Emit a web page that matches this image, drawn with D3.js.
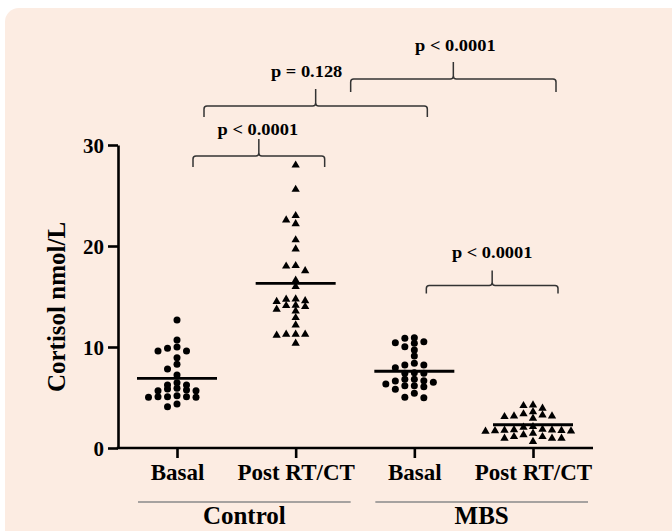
<!DOCTYPE html>
<html>
<head>
<meta charset="utf-8">
<script src="https://cdn.jsdelivr.net/npm/d3@7"></script>
<style>
  html, body { margin: 0; padding: 0; background: #ffffff; }
  svg { display: block; }
  text { font-family: "Liberation Serif", "Times New Roman", serif; font-weight: bold; fill: #000; }
</style>
</head>
<body>
<svg id="chart" width="672" height="531"></svg>
<script>
// ---------------- data ----------------
const categories = ["Basal", "Post RT/CT", "Basal", "Post RT/CT"];
const groupNames = ["Control", "MBS"];
const markerKind = ["dot", "triangle", "dot", "triangle"];

const controlBasal = [12.67, 10.7, 10.0, 9.87, 9.6, 9.6, 8.94, 8.28, 7.82, 7.23,
  6.47, 6.24, 6.24, 5.91, 5.84, 5.74, 5.67, 5.67, 5.18, 5.08, 5.08, 5.08, 5.02, 5.02,
  4.36, 4.09];
const controlPost = [28.0, 25.6, 23.0, 22.57, 22.2, 20.6, 19.7, 18.05, 18.0, 17.55,
  16.6, 15.97, 14.75, 14.72, 14.58, 14.49, 14.13, 14.09, 13.99, 13.73, 13.56, 12.9,
  12.18, 11.26, 11.26, 11.26, 11.16, 10.37];
const mbsBasal = [10.92, 10.86, 10.53, 10.43, 10.36, 10.03, 9.70, 9.11, 8.38, 8.22,
  8.22, 7.95, 7.46, 7.39, 7.39, 6.80, 6.80, 6.66, 6.63, 6.50, 6.34, 6.17, 6.17, 6.07,
  5.81, 5.41, 5.02, 4.98];
const mbsPost = [4.26, 4.19, 3.93, 3.59, 3.37, 3.27, 3.17, 3.17, 3.10, 2.93,
  2.11, 2.05, 1.85, 1.80, 1.78, 1.75, 1.72, 1.70, 1.68, 1.65,
  1.45, 1.30, 1.12, 1.12, 0.95, 0.95, 0.95, 0.63];
const seriesValues = [controlBasal, controlPost, mbsBasal, mbsPost];
const means = [6.9, 16.3, 7.6, 2.3];
const yTicks = [0, 10, 20, 30];

// comparisons: [from category, to category], label
const comparisons = [[0, 1], [0, 2], [1, 3], [2, 3]];
const pLabels = ["p < 0.0001", "p = 0.128", "p < 0.0001", "p < 0.0001"];

// ---------------- layout ----------------
const svg = d3.select("#chart");
svg.append("rect").attr("x", 5).attr("y", 8).attr("width", 720).attr("height", 580)
  .attr("rx", 14).attr("fill", "#FCECE2");

const y = d3.scaleLinear().domain([0, 30]).range([448, 145]);
const x = d3.scalePoint().domain(d3.range(categories.length)).range([177, 533]);
const axisX0 = 118, axisX1 = 593, axisY = y(0);

// y axis
const gy = svg.append("g").attr("transform", `translate(${axisX0},0)`)
  .call(d3.axisLeft(y).tickValues(yTicks).tickSize(10).tickSizeOuter(0).tickPadding(4));
gy.select(".domain").attr("stroke", "#000").attr("stroke-width", 2.6);
gy.selectAll(".tick line").attr("stroke", "#000").attr("stroke-width", 2.6);
gy.selectAll(".tick text").style("font-size", "21px").style("font-family", '"Liberation Serif", serif')
  .style("font-weight", "bold").attr("fill", "#000").attr("dy", "0.34em");

// x axis
svg.append("line").attr("x1", axisX0 - 1.3).attr("x2", axisX1).attr("y1", axisY).attr("y2", axisY)
  .attr("stroke", "#000").attr("stroke-width", 2.6);
const gx = svg.append("g").attr("transform", `translate(0,${axisY})`)
  .call(d3.axisBottom(x).tickSize(10).tickSizeOuter(0).tickPadding(0).tickFormat(i => categories[i]));
gx.select(".domain").remove();
gx.selectAll(".tick line").attr("stroke", "#000").attr("stroke-width", 2.6);
gx.selectAll(".tick text").attr("y", 32).attr("dy", null)
  .style("font-size", "23px").style("font-family", '"Liberation Serif", serif')
  .style("font-weight", "bold").attr("fill", "#000");

// group lines + labels
groupNames.forEach((g, gi) => {
  const a = x(gi * 2), b = x(gi * 2 + 1);
  svg.append("line").attr("x1", a - 39).attr("x2", b + 55).attr("y1", 502).attr("y2", 502)
    .attr("stroke", "#8a8a8a").attr("stroke-width", 1.5);
  svg.append("text").attr("x", (a + b) / 2 + 8).attr("y", 524).attr("text-anchor", "middle")
    .style("font-size", "25px").text(g);
});

// y label
svg.append("text").attr("transform", "translate(65,307) rotate(-90)").attr("text-anchor", "middle")
  .style("font-size", "25px").text("Cortisol nmol/L");

// ---------------- points ----------------
function swarm(values, cx, rowPx, step) {
  const sorted = values.slice().sort((a, b) => b - a);
  const out = [];
  let row = [], rowY = null;
  function flush() {
    row.forEach((v, i) => {
      const k = i === 0 ? 0 : (i % 2 === 1 ? -(i + 1) / 2 : i / 2);
      out.push({ v, x: cx + k * step, y: y(v) });
    });
    row = [];
  }
  sorted.forEach(v => {
    const py = y(v);
    if (rowY === null || py - rowY > rowPx) { flush(); rowY = py; }
    row.push(v);
  });
  flush();
  return out;
}

const tri = d3.symbol().type(d3.symbolTriangle).size(30);
seriesValues.forEach((vals, ci) => {
  const pts = swarm(vals, x(ci), 5.5, 9.5);
  const g = svg.append("g");
  if (markerKind[ci] === "dot") {
    g.selectAll("circle").data(pts).join("circle")
      .attr("cx", d => d.x).attr("cy", d => d.y).attr("r", 3.5).attr("fill", "#000");
  } else {
    g.selectAll("path").data(pts).join("path")
      .attr("transform", d => `translate(${d.x},${d.y})`).attr("d", tri).attr("fill", "#000");
  }
  // mean line
  svg.append("line").attr("x1", x(ci) - 40).attr("x2", x(ci) + 40)
    .attr("y1", y(means[ci])).attr("y2", y(means[ci]))
    .attr("stroke", "#000").attr("stroke-width", 2.8);
});

// ---------------- brackets ----------------
// per comparison: left/right offsets from the category centres, bracket level (data units),
// end drop and tick rise in px, label offset
const bracketLayout = [
  { l: 16, r: 29, level: 28.9, drop: 11, rise: 17, lx: -1, ly: 4 },
  { l: 27, r: 13, level: 33.86, drop: 11, rise: 17, lx: -9, ly: 12 },
  { l: 55, r: 23, level: 36.53, drop: 13, rise: 17, lx: 2, ly: 11 },
  { l: 12, r: 25, level: 16.1, drop: 8, rise: 15, lx: 0, ly: 12 }
];
comparisons.forEach((c, i) => {
  const L = bracketLayout[i];
  const x1 = x(c[0]) + L.l, x2 = x(c[1]) + L.r;
  const yt = y(L.level), xm = (x1 + x2) / 2, r = 3;
  const p = d3.path();
  p.moveTo(x1, yt + L.drop);
  p.lineTo(x1, yt + r);
  p.quadraticCurveTo(x1, yt, x1 + r, yt);
  p.lineTo(xm - r, yt);
  p.quadraticCurveTo(xm, yt, xm, yt - r);
  p.lineTo(xm, yt - L.rise);
  p.moveTo(xm, yt - r);
  p.quadraticCurveTo(xm, yt, xm + r, yt);
  p.lineTo(x2 - r, yt);
  p.quadraticCurveTo(x2, yt, x2, yt + r);
  p.lineTo(x2, yt + L.drop);
  svg.append("path").attr("d", p.toString()).attr("fill", "none")
    .attr("stroke", "#333").attr("stroke-width", 1.5);
  svg.append("text").attr("transform", `translate(${xm + L.lx},${yt - L.rise - L.ly}) scale(1.15,1)`)
    .attr("text-anchor", "middle").style("font-size", "16px").text(pLabels[i]);
});
</script>
</body>
</html>
